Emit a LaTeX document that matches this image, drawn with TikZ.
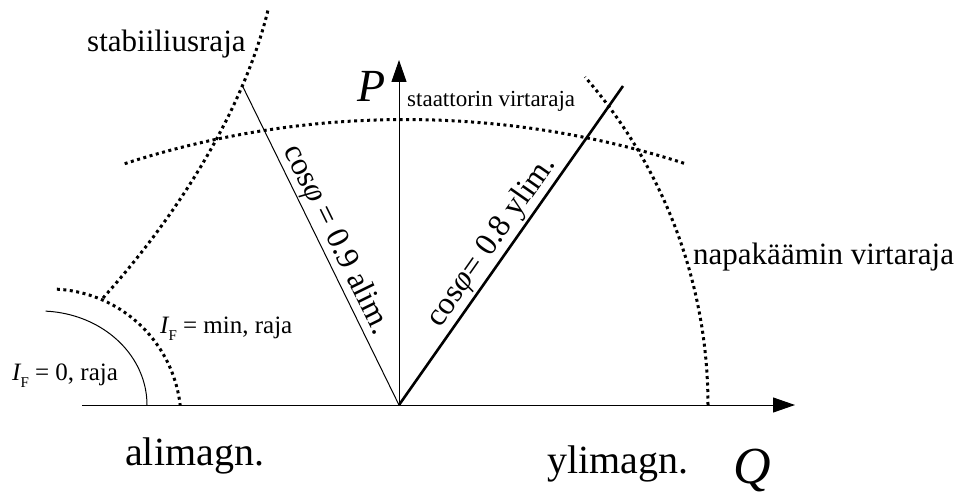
\documentclass[tikz,border=0pt]{standalone}
\usepackage{fontspec}
\setmainfont{Liberation Serif}
\usetikzlibrary{arrows.meta}
\tikzset{
  lim/.style={line width=3pt, dash pattern=on 3pt off 3.5pt},
  axisline/.style={line width=1pt, -{Triangle[length=22pt,width=15pt]}},
  thinline/.style={line width=1pt},
  thickline/.style={line width=2.6pt},
  lbl/.style={inner sep=0pt, anchor=base west},
  rlbl/.style={inner sep=0pt, anchor=center},
}
\newcommand{\fsz}[1]{\fontsize{#1}{#1}\selectfont}
\newcommand{\IFsym}{{\itshape I}\raisebox{-0.28em}{\fontsize{15}{15}\selectfont F}}
\begin{document}
\begin{tikzpicture}[x=1pt,y=-1pt]
\useasboundingbox (0,0) rectangle (966,494);
% key points
\coordinate (O) at (399,405);
\coordinate (Qs) at (82,405);
\coordinate (Qe) at (795,405);
\coordinate (Pe) at (399,60);
\coordinate (A9) at (242,85);
\coordinate (A8) at (623,86);
\coordinate (S0) at (103,298);
\coordinate (S3) at (268,10);
% axes
\draw[axisline] (Qs) -- (Qe);
\draw[axisline] (O) -- (Pe);
% power factor lines
\draw[thinline] (O) -- (A9);
\draw[thickline] (O) -- (A8);
% I_F = 0 limit
\draw[thinline] plot[domain=-87:0, samples=40] ({40+107*cos(\x)},{405+94*sin(\x)});
% I_F = min limit
\draw[lim] plot[domain=-87:-6.6, samples=50] ({50+131*cos(\x)},{420+131*sin(\x)});
% stability limit
\draw[lim] (S0) .. controls (200,190) and (250,85) .. (S3);
% stator current limit
\draw[lim] plot[domain=-107.9:-72, samples=80] ({405+912*cos(\x)},{1031.5+912*sin(\x)});
% rotor current limit
\draw[lim] plot[domain=0:-41.1, samples=60] ({209+499*cos(\x)},{405+499*sin(\x)});
% labels
\node[lbl] (stab) at (87,52) {\fsz{31}stabiiliusraja};
\node[lbl] (stat) at (407,107) {\fsz{23}staattorin virtaraja};
\node[lbl] (napa) at (693,265) {\fsz{31}napakäämin virtaraja};
\node[lbl] (P) at (357,102) {\fsz{46}\itshape P};
\node[lbl] (Q) at (733,483) {\fsz{52}\itshape Q};
\node[lbl] (ali) at (125,465) {\fsz{40}alimagn.};
\node[lbl] (yli) at (547,473) {\fsz{40}ylimagn.};
\node[lbl] (ifmin) at (160,333) {\fsz{25}\IFsym\ = min, raja};
\node[lbl] (ifzero) at (12,380) {\fsz{25}\IFsym\ = 0, raja};
\node[rlbl, rotate=-63.9] (c9) at (336,240) {\fsz{32}cos{\itshape φ} = 0.9 alim.};
\node[rlbl, rotate=54.9] (c8) at (492,242) {\fsz{32}cos{\itshape φ}= 0.8 ylim.};
\end{tikzpicture}
\end{document}
